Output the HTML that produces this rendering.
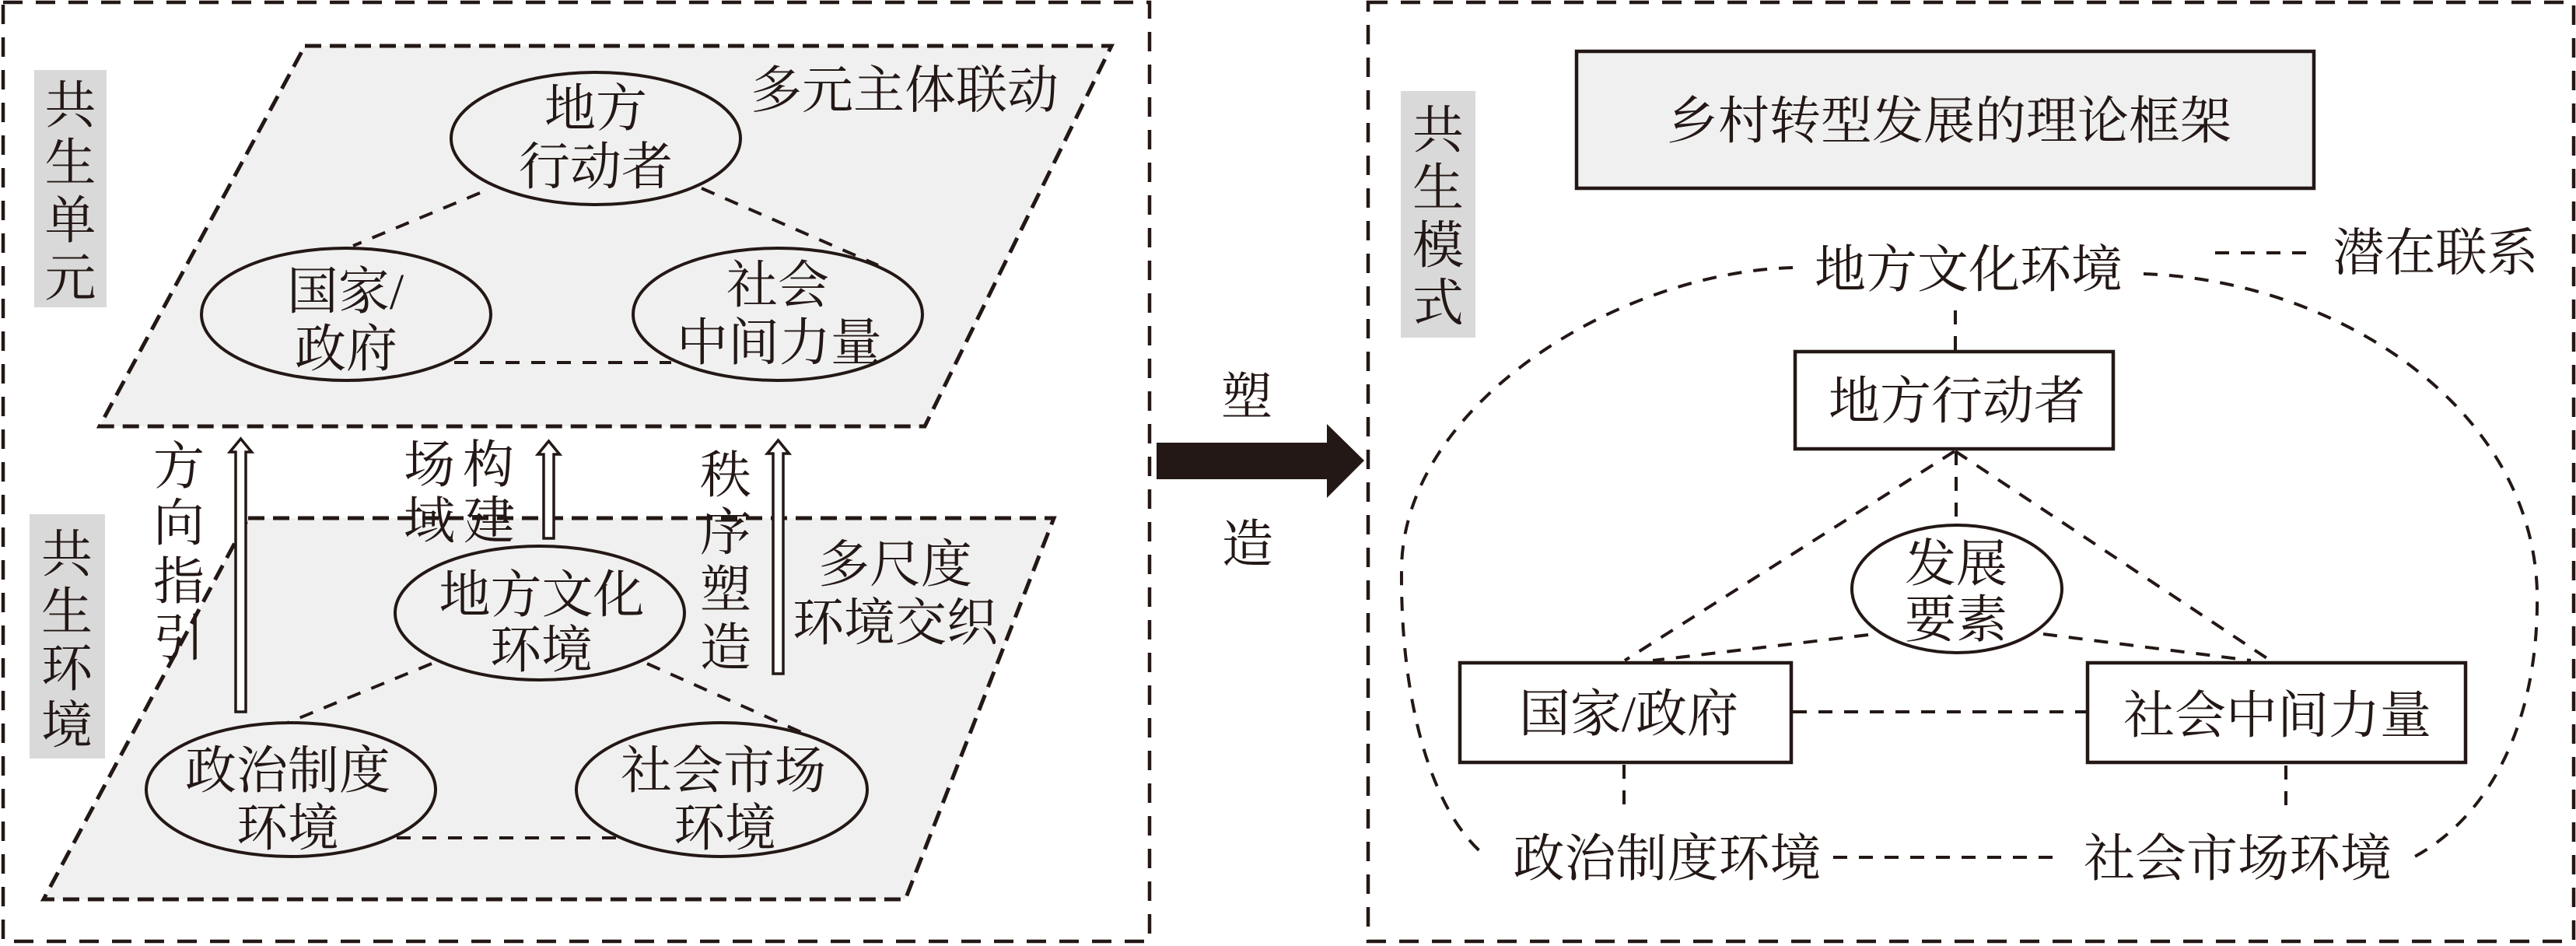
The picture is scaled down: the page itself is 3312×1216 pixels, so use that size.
<!DOCTYPE html>
<html>
<head>
<meta charset="utf-8">
<style>
html,body{margin:0;padding:0;background:#fff;}
svg{display:block;}
text{font-family:"Liberation Serif","Noto Serif CJK SC","Noto Sans CJK SC",serif;font-size:66px;fill:#231815;text-anchor:middle;}
.ob{fill:none;stroke:#231815;stroke-width:4.5;stroke-dasharray:25 17;}
.pg{fill:#f0f0f0;stroke:#231815;stroke-width:5;stroke-dasharray:21 11;}
.cn{fill:none;stroke:#231815;stroke-width:4;stroke-dasharray:18 15;}
.el{fill:none;stroke:#231815;stroke-width:4;}
.bx{fill:#fff;stroke:#231815;stroke-width:4.5;}
.ar{fill:#fff;stroke:#231815;stroke-width:3.5;}
</style>
</head>
<body>
<svg width="3312" height="1216" viewBox="0 0 3312 1216" xmlns="http://www.w3.org/2000/svg">
<!-- outer boxes -->
<rect class="ob" x="4" y="3" width="1474" height="1207"/>
<rect class="ob" x="1759" y="3" width="1550" height="1207"/>

<!-- LEFT PANEL -->
<rect x="44" y="90" width="93" height="305" fill="#d9d9d9"/>
<rect x="38" y="661" width="97" height="314" fill="#d9d9d9"/>
<text x="90.5" y="158">共</text>
<text x="90.5" y="232">生</text>
<text x="90.5" y="306">单</text>
<text x="90.5" y="380">元</text>
<text x="86" y="735">共</text>
<text x="86" y="809">生</text>
<text x="86" y="882">环</text>
<text x="86" y="955">境</text>

<polygon class="pg" points="392,59 1429,59 1189,548 128,548"/>
<polygon class="pg" points="319,666 1355,666 1164,1156 56,1156"/>

<line class="cn" x1="617" y1="248" x2="454" y2="316"/>
<line class="cn" x1="902" y1="242" x2="1129" y2="341"/>
<line class="cn" x1="584" y1="466" x2="863" y2="466"/>
<line class="cn" x1="555" y1="853" x2="370" y2="929"/>
<line class="cn" x1="832" y1="853" x2="1032" y2="942"/>
<line class="cn" x1="510" y1="1077" x2="794" y2="1077"/>

<ellipse class="el" cx="766" cy="178" rx="186" ry="85"/>
<ellipse class="el" cx="445" cy="404" rx="186" ry="85"/>
<ellipse class="el" cx="1000" cy="404" rx="186" ry="85"/>
<ellipse class="el" cx="694" cy="788" rx="186" ry="86"/>
<ellipse class="el" cx="374" cy="1015" rx="186" ry="86"/>
<ellipse class="el" cx="928" cy="1015" rx="187" ry="86"/>

<path class="ar" d="M303,915 L303,581 L295.5,581 L309.5,564 L323.5,581 L316,581 L316,915 Z"/>
<path class="ar" d="M699,692 L699,584 L691.5,584 L705.5,567 L719.5,584 L712,584 L712,692 Z"/>
<path class="ar" d="M994,866 L994,583 L986.5,583 L1000.5,566 L1014.5,583 L1007,583 L1007,866 Z"/>

<text x="1163" y="138.5">多元主体联动</text>
<text x="766" y="162">地方</text>
<text x="766" y="237">行动者</text>
<text x="444" y="397">国家/</text>
<text x="445" y="471">政府</text>
<text x="1000" y="389">社会</text>
<text x="1002" y="463">中间力量</text>

<text x="230" y="622">方</text>
<text x="230" y="695">向</text>
<text x="230" y="770">指</text>
<text x="230" y="843">引</text>
<text x="552" y="620">场</text>
<text x="628" y="620">构</text>
<text x="552" y="692">域</text>
<text x="629" y="692">建</text>
<text x="933" y="633">秩</text>
<text x="933" y="707">序</text>
<text x="933" y="781">塑</text>
<text x="933" y="855">造</text>

<text x="696.5" y="787">地方文化</text>
<text x="696" y="858">环境</text>
<text x="1151" y="748">多尺度</text>
<text x="1151" y="823">环境交织</text>
<text x="370" y="1013">政治制度</text>
<text x="370" y="1087">环境</text>
<text x="930" y="1013">社会市场</text>
<text x="932" y="1087">环境</text>

<!-- MIDDLE ARROW -->
<polygon points="1487,569 1706,569 1706,545 1754,592 1706,640 1706,616 1487,616" fill="#231815"/>
<text x="1603" y="533">塑</text>
<text x="1604" y="722">造</text>

<!-- RIGHT PANEL -->
<rect x="1801" y="117" width="96" height="317" fill="#d9d9d9"/>
<text x="1849" y="190">共</text>
<text x="1849" y="264">生</text>
<text x="1849" y="338">模</text>
<text x="1849" y="412">式</text>

<rect x="2027" y="66" width="948" height="176" fill="#f0f0f0" stroke="#231815" stroke-width="4.5"/>
<text x="2506" y="178">乡村转型发展的理论框架</text>

<path class="cn" d="M2305,344 C2080,350 1805,520 1802,730 C1800,900 1840,1040 1906,1097"/>
<path class="cn" d="M2756,352 C3000,360 3255,520 3262,760 C3265,930 3200,1050 3103,1102"/>

<line class="cn" x1="2848" y1="325" x2="2966" y2="325"/>
<text x="3131.5" y="347.5">潜在联系</text>

<line class="cn" x1="2514" y1="399" x2="2514" y2="450"/>
<line class="cn" x1="2515" y1="580" x2="2515" y2="673"/>
<line class="cn" x1="2513" y1="580" x2="2089" y2="849"/>
<line class="cn" x1="2514" y1="580" x2="2919" y2="849"/>
<line class="cn" x1="2402" y1="816" x2="2125" y2="849"/>
<line class="cn" x1="2627" y1="815" x2="2894" y2="849"/>
<line class="cn" x1="2305" y1="915" x2="2682" y2="915"/>
<line class="cn" x1="2088" y1="983" x2="2088" y2="1034"/>
<line class="cn" x1="2939" y1="984" x2="2939" y2="1038"/>
<line class="cn" x1="2357" y1="1102" x2="2642" y2="1102"/>

<text x="2531" y="369">地方文化环境</text>

<rect class="bx" x="2308" y="452" width="409" height="125"/>
<text x="2516" y="538">地方行动者</text>

<ellipse class="el" cx="2516" cy="757" rx="135" ry="82"/>
<text x="2515" y="747">发展</text>
<text x="2515" y="819">要素</text>

<rect class="bx" x="1877" y="852" width="426" height="128"/>
<text x="2094" y="940">国家/政府</text>
<rect class="bx" x="2684" y="852" width="486" height="128"/>
<text x="2928" y="942">社会中间力量</text>

<text x="2143.5" y="1126">政治制度环境</text>
<text x="2877" y="1126">社会市场环境</text>
</svg>
</body>
</html>
